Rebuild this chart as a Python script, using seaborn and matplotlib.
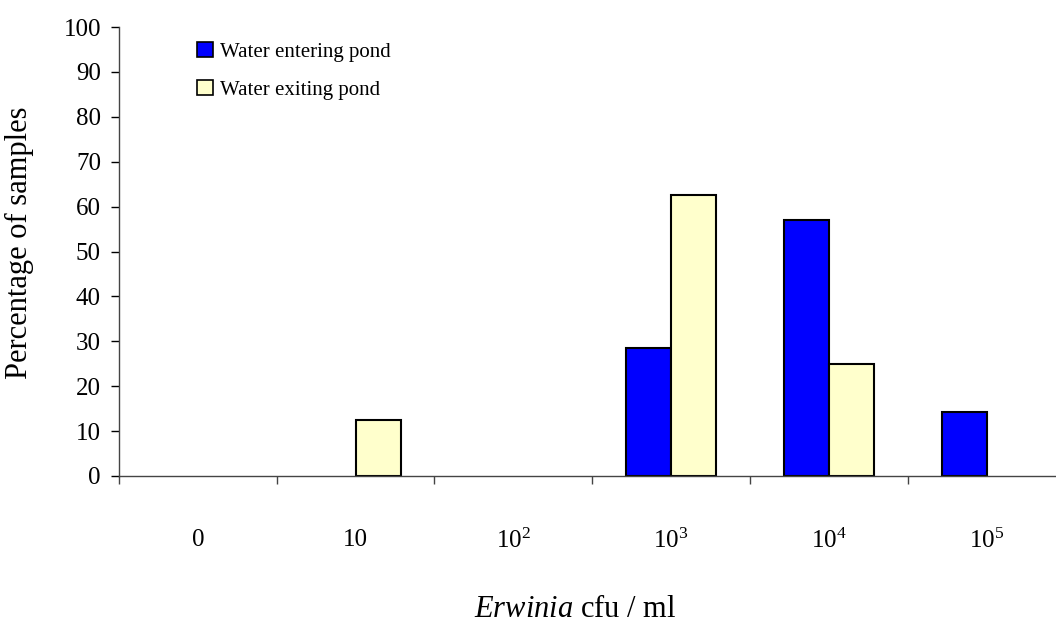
import numpy as np
import pandas as pd
import seaborn as sns
import matplotlib.pyplot as plt

# values
bins = ["0", "10", "$10^{2}$", "$10^{3}$", "$10^{4}$", "$10^{5}$"]
entering = [0, 0, 0, 28.6, 57.1, 14.3]
exiting = [0, 12.5, 0, 62.5, 25.0, 0]
series = ["Water entering pond", "Water exiting pond"]
colors = ["#0000ff", "#ffffcc"]

d = pd.DataFrame({
    "bin": bins * 2,
    "pct": entering + exiting,
    "series": [series[0]] * len(bins) + [series[1]] * len(bins),
})

sns.set_style("white")
plt.rcParams["font.family"] = ["Liberation Serif", "DejaVu Serif"]
plt.rcParams["mathtext.fontset"] = "custom"
plt.rcParams["mathtext.rm"] = "Liberation Serif"
plt.rcParams["mathtext.it"] = "Liberation Serif:italic"
plt.rcParams["text.color"] = "black"
plt.rcParams["axes.labelcolor"] = "black"
plt.rcParams["xtick.labelcolor"] = "black"
plt.rcParams["ytick.labelcolor"] = "black"

fig = plt.figure(figsize=(10.56, 6.3), dpi=100)
ax = fig.add_axes([119 / 1056, 1 - 476 / 630, 1 - 119 / 1056, 449 / 630])

sns.barplot(data=d, x="bin", y="pct", hue="series", palette=colors,
            order=bins, hue_order=series, width=0.57, edgecolor="black",
            linewidth=1.5, saturation=1, ax=ax)

# hide the empty bars so they do not draw a black line on the axis
for p in ax.patches:
    if p.get_height() == 0:
        p.set_visible(False)

ax.set_ylim(0, 100)
ax.set_xlim(-0.5, 5.44)
ax.set_yticks(np.arange(0, 101, 10))
ax.set_xticks(range(len(bins)))
ax.set_xticklabels(bins)
ax.set_xticks(np.arange(-0.5, 5.5, 1), minor=True)

for s in ["top", "right"]:
    ax.spines[s].set_visible(False)
for s in ["left", "bottom"]:
    ax.spines[s].set_color("#444444")
    ax.spines[s].set_linewidth(1.0)

ax.tick_params(axis="y", which="major", direction="out", length=6, width=1,
               color="black", labelcolor="black", labelsize=18, pad=7, left=True)
ax.tick_params(axis="x", which="major", length=0, labelcolor="black",
               labelsize=18, pad=38)
ax.tick_params(axis="x", which="minor", direction="out", length=6, width=1,
               color="#444444", bottom=True)

ax.set_ylabel("Percentage of samples", fontsize=22, color="black")
ax.set_xlabel(r"$\mathit{Erwinia}$ cfu / ml", fontsize=22, color="black")
ax.yaxis.set_label_coords(-0.091, 0.52)
ax.xaxis.set_label_coords(0.487, -0.265)

leg = ax.legend(loc="upper left", bbox_to_anchor=(0.0745, 0.985), frameon=False,
                fontsize=15, handlelength=0.75, handleheight=0.75,
                handletextpad=0.35, labelspacing=0.85, borderaxespad=0,
                labelcolor="black")
for h in leg.legend_handles:
    h.set_visible(True)
    h.set_edgecolor("black")
    h.set_linewidth(1.2)

fig.savefig("out.png", dpi=100)
